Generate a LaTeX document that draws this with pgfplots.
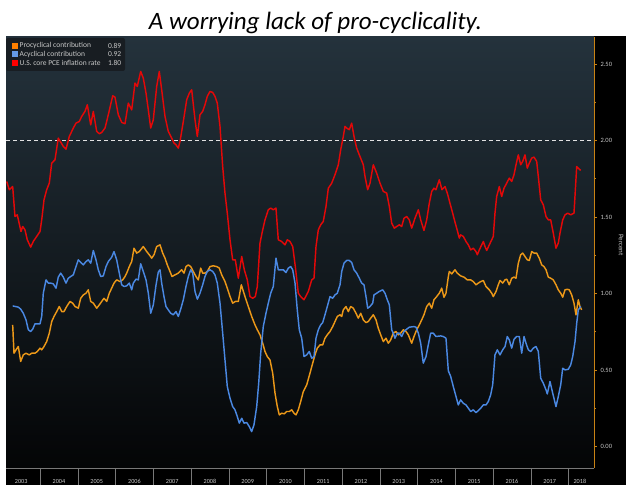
\documentclass[border=0pt]{standalone}
\usepackage{pgfplots}
\pgfplotsset{compat=1.18}
\usepackage{fontspec}
\setmainfont{Carlito}
\definecolor{procol}{RGB}{236,152,24}
\definecolor{acycol}{RGB}{74,136,226}
\definecolor{pcecol}{RGB}{228,8,8}
\definecolor{bgtop}{RGB}{36,50,60}
\definecolor{bgbot}{RGB}{4,5,6}
\definecolor{lbl}{RGB}{200,200,200}
\definecolor{axorange}{RGB}{200,130,20}
\definecolor{sepgray}{RGB}{120,120,120}
\definecolor{legbg}{RGB}{24,29,34}
\definecolor{dashcol}{RGB}{225,225,225}
\begin{document}
\begin{tikzpicture}[x=1pt,y=1pt]
\fill[white] (0,0) rectangle (640,494);
\fill[black] (6,9) rectangle (626,458);
\node[anchor=base, font=\fontsize{25}{28}\selectfont\itshape] at (315.5,464) {A worrying lack of pro-cyclicality.};
\begin{axis}[
  at={(6pt,26pt)}, anchor=south west,
  scale only axis, width=588pt, height=431pt,
  xmin=2003.098, xmax=2018.674, ymin=-0.14, ymax=2.676,
  clip=false,
  axis x line*=bottom, axis y line*=right,
  x axis line style={sepgray, line width=0.6pt, -},
  y axis line style={axorange, line width=0.8pt, -},
  axis background/.style={shade, top color=bgtop, bottom color=bgbot},
  /pgf/number format/assume math mode=true,
  xtick={2003.5,2004.5,2005.5,2006.5,2007.5,2008.5,2009.5,2010.5,2011.5,2012.5,2013.5,2014.5,2015.5,2016.5,2017.5,2018.3},
  xticklabels={2003,2004,2005,2006,2007,2008,2009,2010,2011,2012,2013,2014,2015,2016,2017,2018},
  xtick style={draw=none},
  xticklabel style={font=\fontsize{6.2}{7}\selectfont, text=lbl, yshift=-5pt},
  ytick={0,0.5,1,1.5,2,2.5},
  minor ytick={0.25,0.75,1.25,1.75,2.25},
  ytick style={axorange, line width=0.6pt},
  tick align=outside, major tick length=3pt, minor tick length=2pt,
  yticklabel style={font=\fontsize{6.5}{7}\selectfont, text=lbl, /pgf/number format/.cd, fixed, fixed zerofill, precision=2},
  every axis plot/.append style={line width=1.45pt, line join=round, mark=none},
]
\addplot[dashcol, line width=1.2pt, dash pattern=on 4pt off 3pt] coordinates {(2003.098,2) (2018.674,2)};
% U.S. core PCE inflation rate
\addplot[pcecol] coordinates {
(2003.117,1.732)(2003.185,1.678)(2003.275,1.699)(2003.336,1.503)(2003.397,1.514)(2003.495,1.405)(2003.540,1.438)(2003.601,1.416)(2003.662,1.351)(2003.752,1.303)(2003.821,1.340)(2003.911,1.373)(2003.999,1.405)(2004.044,1.481)(2004.105,1.612)(2004.176,1.678)(2004.245,1.721)(2004.309,1.852)(2004.396,1.874)(2004.483,2.015)(2004.616,1.961)(2004.687,1.943)(2004.775,2.026)(2004.881,2.081)(2004.952,2.113)(2005.040,2.124)(2005.103,2.157)(2005.191,2.190)(2005.252,2.233)(2005.342,2.102)(2005.411,2.190)(2005.501,2.059)(2005.570,2.044)(2005.633,2.052)(2005.721,2.081)(2005.808,2.168)(2005.925,2.292)(2005.985,2.283)(2006.073,2.168)(2006.163,2.118)(2006.250,2.109)(2006.338,2.244)(2006.428,2.200)(2006.515,2.375)(2006.576,2.353)(2006.666,2.451)(2006.735,2.407)(2006.807,2.309)(2006.868,2.200)(2006.931,2.081)(2007.000,2.135)(2007.090,2.353)(2007.159,2.451)(2007.222,2.331)(2007.310,2.157)(2007.397,2.059)(2007.487,2.015)(2007.548,1.983)(2007.601,1.972)(2007.662,1.950)(2007.707,1.993)(2007.795,2.124)(2007.885,2.266)(2007.954,2.309)(2008.017,2.331)(2008.105,2.135)(2008.166,2.026)(2008.237,2.168)(2008.308,2.190)(2008.369,2.233)(2008.430,2.288)(2008.502,2.320)(2008.573,2.314)(2008.634,2.288)(2008.695,2.244)(2008.767,2.092)(2008.838,1.830)(2008.899,1.656)(2008.960,1.525)(2009.032,1.351)(2009.103,1.220)(2009.172,1.220)(2009.252,1.100)(2009.342,1.242)(2009.411,1.155)(2009.490,1.089)(2009.561,0.980)(2009.633,0.969)(2009.702,0.980)(2009.755,1.046)(2009.826,1.329)(2009.898,1.416)(2009.959,1.481)(2010.046,1.547)(2010.110,1.558)(2010.179,1.547)(2010.250,1.558)(2010.311,1.351)(2010.401,1.340)(2010.489,1.318)(2010.550,1.351)(2010.621,1.340)(2010.693,1.307)(2010.762,1.176)(2010.841,1.002)(2010.904,0.980)(2010.992,0.959)(2011.106,1.013)(2011.196,1.089)(2011.257,1.100)(2011.310,1.307)(2011.371,1.416)(2011.434,1.449)(2011.503,1.471)(2011.575,1.569)(2011.636,1.688)(2011.726,1.721)(2011.813,1.776)(2011.901,1.841)(2011.964,1.939)(2012.033,2.026)(2012.078,2.092)(2012.123,2.081)(2012.192,2.070)(2012.255,2.113)(2012.317,2.026)(2012.388,1.950)(2012.457,1.906)(2012.563,1.841)(2012.608,1.765)(2012.679,1.678)(2012.740,1.721)(2012.828,1.841)(2012.918,1.786)(2013.005,1.721)(2013.093,1.667)(2013.183,1.656)(2013.252,1.569)(2013.315,1.460)(2013.384,1.427)(2013.448,1.438)(2013.517,1.449)(2013.580,1.438)(2013.641,1.492)(2013.712,1.503)(2013.781,1.481)(2013.845,1.427)(2013.932,1.492)(2014.021,1.547)(2014.083,1.481)(2014.170,1.412)(2014.242,1.481)(2014.311,1.590)(2014.375,1.667)(2014.435,1.688)(2014.488,1.678)(2014.576,1.743)(2014.647,1.678)(2014.727,1.699)(2014.788,1.656)(2014.859,1.590)(2014.930,1.525)(2014.999,1.460)(2015.053,1.412)(2015.106,1.362)(2015.142,1.383)(2015.212,1.373)(2015.283,1.340)(2015.344,1.318)(2015.408,1.285)(2015.477,1.296)(2015.548,1.274)(2015.583,1.253)(2015.636,1.285)(2015.699,1.318)(2015.742,1.340)(2015.787,1.307)(2015.832,1.281)(2015.901,1.318)(2015.964,1.351)(2016.006,1.373)(2016.051,1.525)(2016.096,1.634)(2016.166,1.699)(2016.229,1.634)(2016.290,1.688)(2016.361,1.721)(2016.430,1.754)(2016.494,1.732)(2016.555,1.776)(2016.608,1.841)(2016.669,1.906)(2016.732,1.841)(2016.785,1.863)(2016.846,1.906)(2016.907,1.819)(2016.960,1.852)(2017.024,1.885)(2017.085,1.891)(2017.156,1.863)(2017.208,1.743)(2017.262,1.612)(2017.331,1.580)(2017.403,1.503)(2017.464,1.481)(2017.527,1.481)(2017.596,1.394)(2017.667,1.296)(2017.728,1.329)(2017.773,1.394)(2017.845,1.481)(2017.906,1.514)(2017.977,1.525)(2018.057,1.514)(2018.144,1.525)(2018.216,1.830)(2018.258,1.819)(2018.322,1.804)
};
% Procyclical contribution
\addplot[procol] coordinates {
(2003.275,0.795)(2003.310,0.610)(2003.363,0.632)(2003.424,0.654)(2003.487,0.556)(2003.556,0.599)(2003.628,0.610)(2003.715,0.599)(2003.779,0.610)(2003.866,0.610)(2003.927,0.621)(2003.999,0.643)(2004.044,0.632)(2004.105,0.654)(2004.176,0.686)(2004.245,0.741)(2004.309,0.817)(2004.370,0.850)(2004.441,0.882)(2004.510,0.915)(2004.574,0.882)(2004.634,0.882)(2004.706,0.915)(2004.793,0.948)(2004.865,0.937)(2004.926,0.915)(2005.013,0.904)(2005.077,0.969)(2005.146,0.991)(2005.217,1.002)(2005.278,1.024)(2005.342,0.948)(2005.411,0.937)(2005.501,0.904)(2005.570,0.926)(2005.633,0.948)(2005.694,0.969)(2005.766,0.948)(2005.834,1.002)(2005.898,1.035)(2005.959,1.068)(2006.030,1.089)(2006.118,1.078)(2006.189,1.089)(2006.250,1.111)(2006.295,1.133)(2006.364,1.176)(2006.428,1.209)(2006.489,1.296)(2006.560,1.264)(2006.629,1.274)(2006.735,1.307)(2006.825,1.274)(2006.894,1.253)(2006.958,1.231)(2007.019,1.253)(2007.090,1.307)(2007.177,1.318)(2007.249,1.264)(2007.310,1.231)(2007.371,1.187)(2007.442,1.144)(2007.495,1.111)(2007.575,1.122)(2007.662,1.133)(2007.752,1.155)(2007.813,1.133)(2007.866,1.176)(2007.927,1.187)(2007.991,1.176)(2008.059,1.144)(2008.131,1.111)(2008.192,1.089)(2008.256,1.166)(2008.308,1.133)(2008.369,1.133)(2008.430,1.144)(2008.502,1.176)(2008.589,1.181)(2008.680,1.176)(2008.748,1.166)(2008.812,1.122)(2008.899,1.078)(2008.960,1.035)(2009.032,0.980)(2009.103,0.937)(2009.172,0.948)(2009.252,0.948)(2009.331,1.057)(2009.429,0.980)(2009.517,0.915)(2009.606,0.850)(2009.694,0.795)(2009.755,0.763)(2009.826,0.730)(2009.898,0.675)(2009.959,0.621)(2010.020,0.588)(2010.091,0.566)(2010.163,0.479)(2010.224,0.349)(2010.285,0.261)(2010.338,0.207)(2010.401,0.218)(2010.470,0.214)(2010.534,0.229)(2010.603,0.229)(2010.666,0.240)(2010.727,0.218)(2010.780,0.207)(2010.841,0.240)(2010.904,0.294)(2010.973,0.359)(2011.064,0.403)(2011.151,0.480)(2011.222,0.545)(2011.283,0.599)(2011.344,0.643)(2011.416,0.664)(2011.487,0.664)(2011.548,0.708)(2011.609,0.730)(2011.681,0.752)(2011.752,0.784)(2011.813,0.817)(2011.874,0.850)(2011.946,0.861)(2011.991,0.850)(2012.033,0.893)(2012.104,0.915)(2012.166,0.882)(2012.229,0.915)(2012.298,0.904)(2012.370,0.871)(2012.430,0.839)(2012.494,0.871)(2012.563,0.828)(2012.634,0.810)(2012.695,0.817)(2012.759,0.839)(2012.828,0.861)(2012.899,0.828)(2012.960,0.773)(2013.024,0.730)(2013.093,0.686)(2013.164,0.708)(2013.225,0.675)(2013.288,0.697)(2013.357,0.741)(2013.429,0.752)(2013.490,0.730)(2013.553,0.741)(2013.622,0.763)(2013.694,0.752)(2013.755,0.730)(2013.845,0.675)(2013.906,0.719)(2013.977,0.763)(2014.047,0.795)(2014.110,0.828)(2014.170,0.861)(2014.242,0.915)(2014.311,0.937)(2014.375,0.904)(2014.435,0.959)(2014.507,0.980)(2014.576,1.002)(2014.640,1.035)(2014.700,0.975)(2014.753,1.002)(2014.815,1.110)(2014.841,1.144)(2014.905,1.128)(2014.991,1.155)(2015.053,1.133)(2015.142,1.115)(2015.230,1.107)(2015.318,1.089)(2015.408,1.089)(2015.477,1.078)(2015.548,1.057)(2015.610,1.068)(2015.673,1.078)(2015.742,1.085)(2015.813,1.046)(2015.901,1.024)(2015.964,1.002)(2016.006,0.980)(2016.078,1.013)(2016.139,1.057)(2016.184,1.085)(2016.255,1.068)(2016.317,1.089)(2016.361,1.094)(2016.430,1.057)(2016.494,1.100)(2016.555,1.107)(2016.608,1.100)(2016.669,1.198)(2016.732,1.253)(2016.785,1.264)(2016.846,1.242)(2016.907,1.220)(2016.960,1.216)(2017.024,1.274)(2017.085,1.264)(2017.156,1.264)(2017.224,1.231)(2017.289,1.187)(2017.349,1.176)(2017.403,1.155)(2017.464,1.107)(2017.527,1.100)(2017.596,1.089)(2017.667,1.057)(2017.728,1.024)(2017.792,1.002)(2017.845,0.976)(2017.906,1.024)(2017.967,1.028)(2018.020,1.024)(2018.083,0.991)(2018.144,0.937)(2018.197,0.861)(2018.258,0.959)(2018.303,0.915)(2018.348,0.893)
};
% Acyclical contribution
\addplot[acycol] coordinates {
(2003.275,0.919)(2003.424,0.911)(2003.487,0.898)(2003.556,0.871)(2003.628,0.828)(2003.689,0.763)(2003.752,0.752)(2003.805,0.767)(2003.866,0.802)(2003.999,0.802)(2004.044,0.850)(2004.086,1.002)(2004.158,1.089)(2004.219,1.068)(2004.282,1.068)(2004.351,1.063)(2004.423,1.035)(2004.483,1.107)(2004.547,1.133)(2004.616,1.107)(2004.687,1.068)(2004.748,1.100)(2004.812,1.111)(2004.881,1.122)(2004.952,1.176)(2005.013,1.220)(2005.077,1.203)(2005.146,1.187)(2005.217,1.209)(2005.278,1.220)(2005.342,1.198)(2005.411,1.281)(2005.482,1.220)(2005.543,1.155)(2005.607,1.111)(2005.675,1.115)(2005.747,1.176)(2005.808,1.209)(2005.898,1.237)(2005.959,1.274)(2006.030,1.220)(2006.099,1.133)(2006.163,1.057)(2006.224,1.046)(2006.295,1.050)(2006.364,1.068)(2006.428,1.024)(2006.470,1.068)(2006.542,1.094)(2006.602,1.089)(2006.666,1.194)(2006.735,1.144)(2006.807,1.089)(2006.868,1.002)(2006.931,0.871)(2007.000,0.925)(2007.072,1.055)(2007.132,1.140)(2007.177,1.155)(2007.222,1.068)(2007.283,0.980)(2007.336,0.915)(2007.397,0.893)(2007.461,0.871)(2007.530,0.861)(2007.601,0.882)(2007.662,0.850)(2007.726,0.898)(2007.795,0.959)(2007.866,1.046)(2007.927,1.111)(2007.991,1.155)(2008.044,1.133)(2008.105,1.013)(2008.166,0.963)(2008.237,1.002)(2008.308,1.057)(2008.369,1.111)(2008.430,1.144)(2008.502,1.155)(2008.573,1.144)(2008.634,1.122)(2008.695,1.068)(2008.767,0.937)(2008.838,0.741)(2008.899,0.566)(2008.960,0.392)(2009.032,0.316)(2009.103,0.261)(2009.164,0.240)(2009.225,0.196)(2009.278,0.153)(2009.342,0.185)(2009.403,0.153)(2009.474,0.157)(2009.542,0.131)(2009.606,0.098)(2009.667,0.142)(2009.739,0.261)(2009.792,0.414)(2009.845,0.610)(2009.913,0.784)(2009.985,0.871)(2010.046,0.937)(2010.110,1.002)(2010.179,1.046)(2010.250,1.231)(2010.311,1.155)(2010.375,1.155)(2010.444,1.155)(2010.515,1.137)(2010.576,1.166)(2010.640,1.176)(2010.693,1.155)(2010.754,1.068)(2010.814,0.893)(2010.867,0.763)(2010.931,0.708)(2010.992,0.588)(2011.064,0.599)(2011.132,0.621)(2011.196,0.577)(2011.257,0.588)(2011.310,0.708)(2011.371,0.763)(2011.434,0.795)(2011.487,0.810)(2011.548,0.861)(2011.609,0.915)(2011.681,0.980)(2011.752,0.969)(2011.813,0.991)(2011.874,1.002)(2011.946,1.057)(2011.991,1.144)(2012.052,1.198)(2012.123,1.216)(2012.192,1.216)(2012.255,1.203)(2012.317,1.155)(2012.388,1.133)(2012.457,1.100)(2012.520,1.068)(2012.581,1.057)(2012.634,0.980)(2012.679,0.904)(2012.740,0.915)(2012.812,0.937)(2012.846,0.991)(2012.918,1.002)(2012.981,1.013)(2013.077,1.024)(2013.138,1.002)(2013.199,0.959)(2013.252,0.926)(2013.315,0.763)(2013.357,0.741)(2013.402,0.708)(2013.463,0.741)(2013.517,0.741)(2013.580,0.719)(2013.641,0.752)(2013.712,0.767)(2013.781,0.780)(2013.906,0.784)(2013.959,0.780)(2014.021,0.741)(2014.083,0.675)(2014.152,0.545)(2014.224,0.588)(2014.284,0.664)(2014.348,0.741)(2014.417,0.741)(2014.488,0.719)(2014.613,0.723)(2014.682,0.719)(2014.753,0.708)(2014.815,0.495)(2014.878,0.458)(2014.947,0.392)(2015.019,0.327)(2015.079,0.272)(2015.142,0.305)(2015.212,0.283)(2015.283,0.272)(2015.344,0.251)(2015.408,0.229)(2015.477,0.240)(2015.548,0.222)(2015.610,0.235)(2015.673,0.251)(2015.742,0.272)(2015.813,0.272)(2015.874,0.294)(2015.937,0.338)(2015.990,0.403)(2016.051,0.599)(2016.113,0.632)(2016.184,0.599)(2016.255,0.632)(2016.317,0.654)(2016.377,0.719)(2016.430,0.697)(2016.494,0.643)(2016.555,0.701)(2016.626,0.719)(2016.695,0.719)(2016.759,0.610)(2016.820,0.719)(2016.873,0.675)(2016.934,0.632)(2016.997,0.621)(2017.066,0.643)(2017.137,0.654)(2017.199,0.621)(2017.262,0.447)(2017.331,0.414)(2017.403,0.370)(2017.437,0.344)(2017.508,0.425)(2017.580,0.349)(2017.667,0.261)(2017.728,0.327)(2017.792,0.403)(2017.845,0.512)(2017.906,0.501)(2017.994,0.505)(2018.057,0.534)(2018.110,0.588)(2018.171,0.686)(2018.216,0.806)(2018.258,0.893)(2018.322,0.915)
};
\pgfplotsinvokeforeach{2004,2005,2006,2007,2008,2009,2010,2011,2012,2013,2014,2015,2016,2017,2018}{
  \draw[sepgray, line width=0.6pt] (axis cs:#1,-0.14) -- ++(0pt,-17pt);
}
\end{axis}
% legend
\fill[legbg, rounded corners=2pt] (6,423) rectangle (125,456);
\fill[orange] (11.5,445) rectangle (17.5,451);
\fill[acycol!85!white] (11.5,436.5) rectangle (17.5,442.5);
\fill[red] (11.5,428) rectangle (17.5,434);
\begin{scope}[every node/.style={font=\fontsize{7.5}{8}\selectfont, text=lbl, inner sep=0pt}]
\node[anchor=west] at (19.5,448) {Procyclical contribution};
\node[anchor=west] at (19.5,439.5) {Acyclical contribution};
\node[anchor=west] at (19.5,431) {U.S. core PCE inflation rate};
\node[anchor=east] at (121.5,448) {0.89};
\node[anchor=east] at (121.5,439.5) {0.92};
\node[anchor=east] at (121.5,431) {1.80};
\node[rotate=-90, font=\fontsize{7}{8}\selectfont] at (621,249) {Percent};
\end{scope}
\end{tikzpicture}
\end{document}
